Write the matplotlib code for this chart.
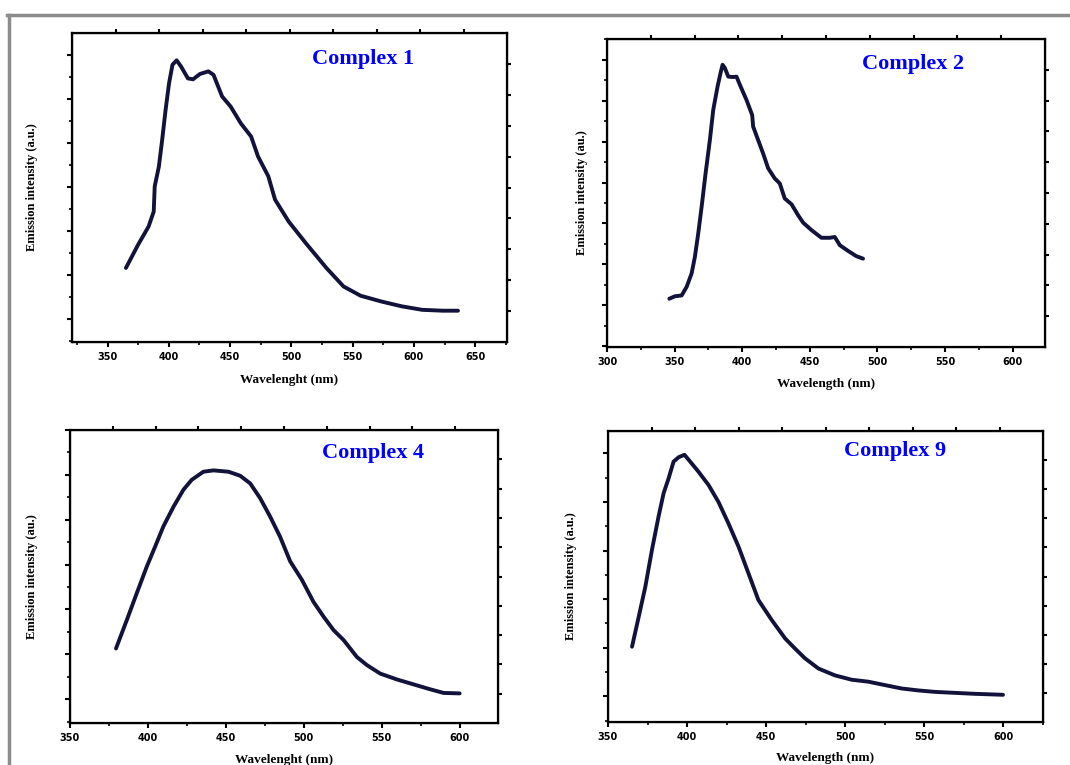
import matplotlib
matplotlib.use('Agg')
import matplotlib.pyplot as plt
from matplotlib.lines import Line2D
from matplotlib.ticker import MultipleLocator
import numpy as np

plt.rcParams['font.family'] = 'serif'
plt.rcParams['font.serif'] = ['Liberation Serif', 'DejaVu Serif']
plt.rcParams['font.weight'] = 'bold'

# Complex 1 emission spectrum (arbitrary units)
wl1 = [365, 375, 383.5, 387.7, 388.5, 391.9, 394.6, 397.4, 400.2, 403, 406.4, 410,
       415.6, 419.8, 425.4, 432.3, 436.5, 443.5, 450.5, 458.8, 467.2, 472.8, 481.2,
       486.7, 497.9, 511.9, 528.6, 542.6, 556.5, 573.3, 590, 606.8, 623.5, 636]
em1 = [1.16, 1.69, 2.10, 2.44, 3.01, 3.46, 4.07, 4.75, 5.35, 5.77, 5.87, 5.73,
       5.46, 5.44, 5.56, 5.62, 5.54, 5.05, 4.82, 4.44, 4.14, 3.69, 3.24,
       2.71, 2.21, 1.72, 1.16, 0.74, 0.53, 0.40, 0.29, 0.21, 0.19, 0.19]

# Complex 2
wl2 = [346.1, 350.2, 355.2, 358.9, 362.6, 365.0, 367.5, 370, 372.9, 376.1, 378.6,
       381.8, 384.2, 385.5, 387.2, 389.7, 393.3, 395.8, 398.3, 403.2, 407.4, 408.1,
       411.8, 415.5, 419.2, 424.1, 427.8, 431.5, 436.5, 441.4, 445.1, 451.2, 458.6,
       464.8, 468.5, 472.2, 478.3, 484.5, 489.4]
em2 = [0.16, 0.22, 0.24, 0.45, 0.78, 1.18, 1.76, 2.41, 3.22, 4.04, 4.78,
       5.35, 5.71, 5.88, 5.80, 5.59, 5.58, 5.59, 5.39, 5.02, 4.65, 4.37,
       4.04, 3.71, 3.35, 3.10, 2.98, 2.61, 2.47, 2.20, 2.02, 1.84, 1.65,
       1.65, 1.67, 1.47, 1.33, 1.20, 1.14]

# Complex 4
wl4 = [379.5, 386.4, 392.8, 399.2, 404.6, 409.9, 416.4, 422.8, 428.1, 435.6, 442.0,
       451.7, 459.2, 465.6, 472.0, 478.4, 484.8, 491.3, 498.8, 506.2, 512.7, 519.1,
       525.5, 534.1, 540.5, 549.1, 559.8, 570.5, 581.2, 589.7, 600]
em4 = [1.13, 1.76, 2.36, 2.95, 3.40, 3.85, 4.29, 4.67, 4.89, 5.07, 5.10,
       5.07, 4.98, 4.81, 4.48, 4.07, 3.62, 3.07, 2.66, 2.17, 1.84, 1.54,
       1.32, 0.94, 0.76, 0.57, 0.44, 0.33, 0.22, 0.14, 0.13]

# Complex 9
wl9 = [365.2, 369.4, 373.6, 377.8, 382.0, 385.2, 388.3, 391.5, 394.7, 398.4, 402.0,
       407.3, 413.6, 419.9, 426.2, 432.6, 438.9, 445.2, 453.6, 462.1, 468.4, 474.7,
       483.2, 493.6, 504.2, 514.7, 525.2, 535.8, 546.3, 556.8, 569.5, 582.1, 600]
em9 = [1.02, 1.63, 2.25, 3.01, 3.70, 4.18, 4.48, 4.83, 4.92, 4.97, 4.83,
       4.62, 4.35, 4.00, 3.56, 3.08, 2.53, 1.98, 1.57, 1.19, 0.98, 0.78,
       0.57, 0.43, 0.34, 0.30, 0.23, 0.16, 0.12, 0.09, 0.07, 0.05, 0.03]

W, H = 1070, 765
fig = plt.figure(figsize=(W / 100, H / 100), dpi=100)

def px(x, y):
    return x / W, 1 - y / H

panels = [
    # data, box (left, top, right, bottom) in px, xlim, ylim, xticks, title, title pos, ylabel, xlabel, label pos
    (wl1, em1, (72, 33, 507, 342), (321, 676), (-0.52, 6.49), np.arange(350, 651, 50),
     'Complex 1', (363, 59), 'Emission intensity (a.u.)', 'Wavelenght (nm)', (32, 380)),
    (wl2, em2, (607, 39, 1045, 347), (300, 624), (-1.02, 6.51), np.arange(300, 601, 50),
     'Complex 2', (913, 64), 'Emission intensity (au.)', 'Wavelength (nm)', (582, 384)),
    (wl4, em4, (70, 430, 498, 723), (350, 624.6), (-0.53, 6.0), np.arange(350, 601, 50),
     'Complex 4', (373, 453), 'Emission intensity (au.)', 'Wavelenght (nm)', (32, 760)),
    (wl9, em9, (608, 431, 1043, 722), (350, 625.3), (-0.53, 5.46), np.arange(350, 601, 50),
     'Complex 9', (895, 451), 'Emission intensity (a.u.)', 'Wavelength (nm)', (571, 758)),
]

for wl, em, box, xlim, ylim, xt, title, tpos, ylab, xlab, lpos in panels:
    l, t, r, b = box
    ax = fig.add_axes([l / W, 1 - b / H, (r - l) / W, (b - t) / H])
    ax.plot(wl, em, color='#12123a', lw=2.8, solid_joinstyle='round', solid_capstyle='round')
    ax.set_xlim(*xlim)
    ax.set_ylim(*ylim)
    ax.set_xticks(xt)
    ax.xaxis.set_minor_locator(MultipleLocator(25))
    ax.yaxis.set_major_locator(MultipleLocator(1))
    ax.yaxis.set_minor_locator(MultipleLocator(0.5))
    ax.set_yticklabels([])
    ax.tick_params(which='major', direction='out', length=3.5, width=1.5, labelsize=7, pad=4)
    ax.tick_params(which='minor', direction='out', length=2, width=1.2)
    for lab in ax.get_xticklabels():
        lab.set_fontfamily('DejaVu Sans')
        lab.set_fontweight('bold')
    for s in ax.spines.values():
        s.set_linewidth(1.6)

    # frame ticks on top and right (10 divisions)
    axr = ax.twinx()
    axr.set_ylim(0, 1)
    axr.set_yticks(np.arange(0.1, 0.95, 0.1))
    axr.set_yticklabels([])
    axr.tick_params(direction='out', length=3, width=1.5)
    axt = ax.twiny()
    axt.set_xlim(0, 1)
    axt.set_xticks(np.arange(0.1, 0.95, 0.1))
    axt.set_xticklabels([])
    axt.tick_params(direction='out', length=3, width=1.5)

    fig.text(*px(*tpos), title, color='#0000ff', fontsize=16, fontweight='bold',
             ha='center', va='center')
    fig.text(*px(lpos[0], (t + b) / 2), ylab, rotation=90, fontsize=9,
             fontweight='bold', ha='center', va='center')
    fig.text(*px((l + r) / 2, lpos[1]), xlab, fontsize=9.5, fontweight='bold',
             ha='center', va='center')

# grey page frame
fig.add_artist(Line2D([7 / W, 1], [1 - 15 / H, 1 - 15 / H], color='#8c8c8c', lw=2.5))
fig.add_artist(Line2D([9 / W, 9 / W], [0, 1 - 15 / H], color='#8c8c8c', lw=2.5))

fig.savefig('out.png', dpi=100)
